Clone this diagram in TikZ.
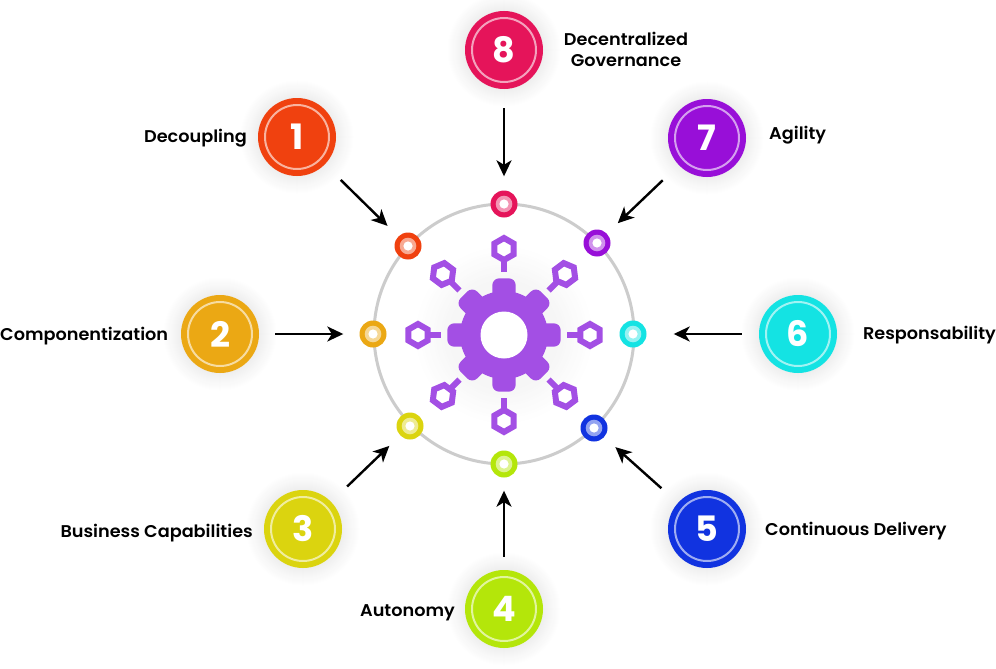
\documentclass[tikz,border=0pt]{standalone}
\usepackage{fontspec}
\setmainfont{Poppins}[BoldFont={Poppins SemiBold},BoldFeatures={FakeStretch=1.04}]
\newfontfamily\numfont{Poppins Bold}
\usetikzlibrary{arrows.meta}
\definecolor{c1}{HTML}{F0410F}
\definecolor{c2}{HTML}{EBA814}
\definecolor{c3}{HTML}{DBD40F}
\definecolor{c4}{HTML}{B4E60A}
\definecolor{c5}{HTML}{1133E0}
\definecolor{c6}{HTML}{14E3E3}
\definecolor{c7}{HTML}{980FD8}
\definecolor{c8}{HTML}{E5145A}
\definecolor{gearc}{HTML}{A34FE4}
\tikzset{
  x=1pt,y=-1pt,
  bigdot/.style={circle,inner sep=0pt,minimum size=78pt,fill=#1,text=white,font=\numfont\fontsize{35}{35}\selectfont},
  smalldot/.style={circle,inner sep=0pt,minimum size=27pt,fill=#1},
  lab/.style={font=\bfseries\fontsize{17}{21}\selectfont,inner sep=0pt,align=center,text=black},
  conn/.style={line width=2.4pt,-{Stealth[length=16pt,width=15pt,inset=4.5pt]}}
}
\begin{document}
\begin{tikzpicture}
\useasboundingbox (0,0) rectangle (996,669);
\fill[white] (0,0) rectangle (996,669);
% soft glows
\foreach \i in {0,...,15}{
  \pgfmathsetmacro{\rr}{90-\i*2.5}
  \pgfmathsetmacro{\pp}{\i*0.25}
  \fill[black!\pp!white] (504,335) circle (\rr);
}
\foreach \x/\y in {297/137,220/334,303/529,504/609,707/529,798/334,707/138,504/50}{
  \foreach \i in {0,...,18}{
    \pgfmathsetmacro{\rr}{57-\i}
    \pgfmathsetmacro{\pp}{\i*0.36}
    \fill[black!\pp!white] (\x,\y) circle (\rr);
  }
}
% ring
\draw[line width=3pt,black!20] (504,334) circle (130);
% gear
\fill[gearc] (504,335) circle (44);
\foreach \a in {0,45,...,315}{
  \begin{scope}[shift={(504,335)},rotate=\a]
    \fill[gearc,rounded corners=7pt] (-11.7,-56.7) rectangle (11.7,-30);
    \fill[gearc] (-3,-63) rectangle (3,-76);
  \end{scope}
}
\fill[white] (504,335) circle (23.5);
% hexagons
\foreach \hx/\hy/\r in {504/249/0,565/274/7,590/335/0,565/396/7,504/421/0,443/396/-7,418/335/0,443/274/-7}{
  \begin{scope}[shift={(\hx,\hy)},rotate=\r]
    \fill[white] (0,-11) -- (9.53,-5.5) -- (9.53,5.5) -- (0,11) -- (-9.53,5.5) -- (-9.53,-5.5) -- cycle;
    \draw[gearc,line width=6pt] (0,-11) -- (9.53,-5.5) -- (9.53,5.5) -- (0,11) -- (-9.53,5.5) -- (-9.53,-5.5) -- cycle;
  \end{scope}
}
% big circles
\node[bigdot=c1] (b1) at (297,137) {1};
\node[bigdot=c2] (b2) at (220,334) {2};
\node[bigdot=c3] (b3) at (303,529) {3};
\node[bigdot=c4] (b4) at (504,609) {4};
\node[bigdot=c5] (b5) at (707,529) {5};
\node[bigdot=c6] (b6) at (798,334) {6};
\node[bigdot=c7] (b7) at (707,138) {7};
\node[bigdot=c8] (b8) at (504,50) {8};
\foreach \n in {1,...,8}
  \draw[white,opacity=.6,line width=2pt] (b\n.center) circle (32);
% small circles
\node[smalldot=c1] (s1) at (408,246) {};
\node[smalldot=c2] (s2) at (373,334) {};
\node[smalldot=c3] (s3) at (410,426) {};
\node[smalldot=c4] (s4) at (504,464) {};
\node[smalldot=c5] (s5) at (594,428) {};
\node[smalldot=c6] (s6) at (633,334) {};
\node[smalldot=c7] (s7) at (597,243) {};
\node[smalldot=c8] (s8) at (504,204) {};
\foreach \n in {1,...,8}{
  \fill[white,opacity=.55] (s\n.center) circle (8.3);
  \fill[white] (s\n.center) circle (4.6);
}
% connectors
\draw[conn,shorten <=22pt,shorten >=15pt] (b1) -- (s1);
\draw[conn,shorten <=16pt,shorten >=16pt] (b2) -- (s2);
\draw[conn,shorten <=22pt,shorten >=15pt] (b3) -- (s3);
\draw[conn,shorten <=13pt,shorten >=13pt] (b4) -- (s4);
\draw[conn,shorten <=22pt,shorten >=15pt] (b5) -- (s5);
\draw[conn,shorten <=17pt,shorten >=27pt] (b6) -- (s6);
\draw[conn,shorten <=22pt,shorten >=15pt] (b7) -- (s7);
\draw[conn,shorten <=19pt,shorten >=14pt] (b8) -- (s8);
% labels
\node[lab,anchor=east] (t1) at (247,138) {Decoupling};
\node[lab,anchor=west] (t2) at (0,336) {Componentization};
\node[lab,anchor=east] (t3) at (253,533.5) {Business Capabilities};
\node[lab,anchor=east] (t4) at (455,613) {Autonomy};
\node[lab,anchor=west] (t5) at (765,531) {Continuous Delivery};
\node[lab,anchor=east] (t6) at (996,335) {Responsability};
\node[lab,anchor=west] (t7) at (769,135) {Agility};
\node[lab] (t8) at (626,49) {Decentralized\\Governance};
\end{tikzpicture}
\end{document}
